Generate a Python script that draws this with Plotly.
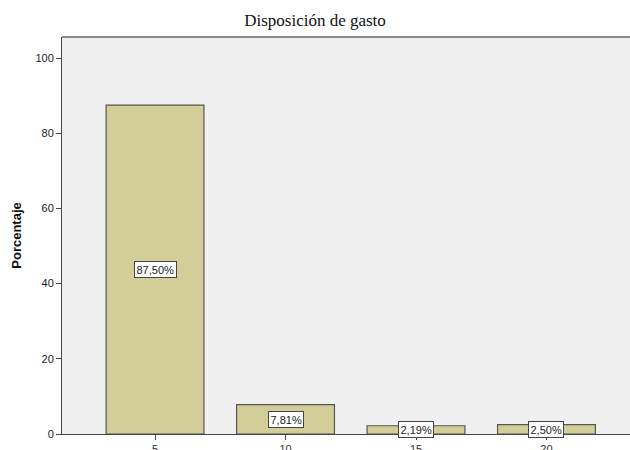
import plotly.graph_objects as go

categories = ["5", "10", "15", "20"]
percentages = [87.50, 7.81, 2.19, 2.50]
labels = ["87,50%", "7,81%", "2,19%", "2,50%"]
y_ticks = [0, 20, 40, 60, 80, 100]

positions = list(range(len(categories)))

fig = go.Figure()
fig.add_trace(go.Bar(
    x=positions, y=percentages, width=0.75,
    marker=dict(color="#d3ce97", line=dict(color="#555555", width=1.2)),
    hoverinfo="skip",
))

for p, v, t in zip(positions, percentages, labels):
    fig.add_annotation(
        x=p, y=v / 2, text=t, showarrow=False,
        font=dict(family="Arial, Liberation Sans", size=11, color="#222222"),
        bgcolor="white", bordercolor="#444444", borderwidth=1, borderpad=1.5,
    )

fig.update_layout(
    width=630, height=450,
    margin=dict(l=62, r=0, t=37, b=16, autoexpand=False),
    paper_bgcolor="white", plot_bgcolor="#f0f0f0",
    showlegend=False,
    title=dict(text="Disposición de gasto", x=0.5, xanchor="center", y=0.955, yanchor="middle",
               font=dict(family="Liberation Serif, Times New Roman", size=17, color="#111111")),
    xaxis=dict(
        range=[-0.713, 3.64], tickmode="array", tickvals=positions, ticktext=categories,
        showgrid=False, zeroline=False, showline=True, linecolor="#444444", linewidth=1,
        ticks="outside", ticklen=5, tickcolor="#444444", automargin=False,
        tickfont=dict(family="Arial, Liberation Sans", size=11, color="#333333"),
        mirror=False,
    ),
    yaxis=dict(
        range=[0, 105.6], tickmode="array", tickvals=y_ticks,
        showgrid=False, zeroline=False, showline=True, linecolor="#444444", linewidth=1,
        ticks="outside", ticklen=5, tickcolor="#444444", automargin=False,
        tickfont=dict(family="Arial, Liberation Sans", size=11, color="#222222"),
        title=dict(text="<b>Porcentaje</b>", standoff=10,
                   font=dict(family="Arial, Liberation Sans", size=13, color="#111111")),
    ),
)

fig.add_shape(type="line", xref="paper", yref="paper", x0=0, x1=1, y0=1, y1=1,
              line=dict(color="#888888", width=2))

fig.write_html("out.html", config={"displayModeBar": False},
               post_script="document.body.style.margin='0';document.body.style.overflow='hidden';")
